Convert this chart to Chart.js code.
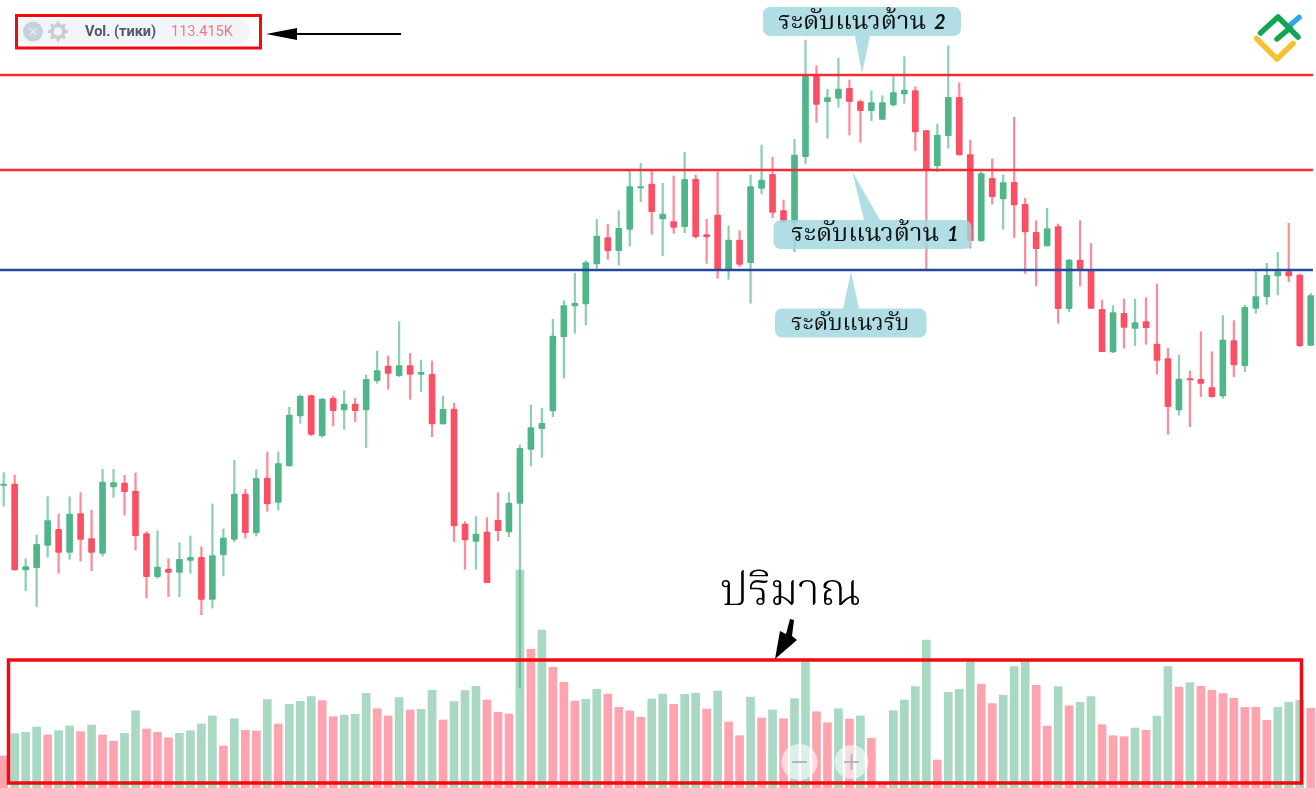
<!DOCTYPE html>
<html>
<head>
<meta charset="utf-8">
<title>Vol. (тики)</title>
<script src="https://cdn.jsdelivr.net/npm/chart.js@4/dist/chart.umd.min.js"></script>
<style>
  html, body { margin: 0; padding: 0; background: #fff; }
  canvas { display: block; }
</style>
</head>
<body>
<canvas id="myChart" width="1316" height="788"></canvas>
<script>
// Candles, one value per bar, price units are arbitrary (the picture has no price axis)
var opens = [314.7,316,230,232.3,254.7,270.7,247.7,286.3,261.3,246.7,313,317,309,266.3,223.3,231,227.7,239.7,242.7,200.7,
  245.3,260.7,306,267,322,297.7,334,384,404.3,364.3,401.7,390,396,390,419.3,434,424.3,434.3,425.7,425.7,
  376,391,276,258.7,268,279.7,268,296.7,350.7,371.3,389,463.3,494,496,536,562.3,549.3,570.7,612,616,
  581,578.3,573.3,621,565.3,585,530.7,560,537.3,611.7,625.7,589.3,578,643.3,724,698.3,701.7,711.7,698.3,689.3,
  680.7,695,706,709.3,669.3,634.3,664.3,702.7,645.3,559.3,621.7,601,617.7,595.7,567.7,554,573.3,491.3,540,529.3,
  490.7,448,486.7,471.7,478.3,456,441.3,390,421.3,420.7,412.3,404,459.3,434.3,491.7,503.3,524,528.3,525,454.7];
var closes = [316,230,233.3,255.7,279.3,247.7,286,260.7,247.7,318,317.3,308.3,264.3,223.3,233,227.7,240.7,242.7,200.7,244.3,
  262,306,267.3,321.7,296,336.3,385,404,365.7,401,389.3,396,389.3,420.7,429.3,426.7,434.3,425.7,427.7,376,
  390.7,274,260,266,217.3,269.3,297,351.7,372.3,376.7,464,494.3,496.7,537.3,564,549.3,571.7,613.3,613.3,588.3,
  586,572.7,620.7,563.3,563,530.7,560,535.7,613.3,620,587.7,578.3,645,724,695.7,702.3,711,698.3,689.3,697.3,
  697.3,707.3,710,668,630,665,702.7,645,559.3,626.3,603.3,617.3,595,568,551.3,571.3,491.3,540,531.3,491.7,
  448.3,487.3,472.7,477.3,472.3,439.7,393.3,421,420,416.7,403.3,460,435,492.7,503.3,524.7,528.3,524,454.3,504.3];
var highs = [327.3,325,241.3,265,303.3,286,303.3,307.3,289.7,330.7,330.7,324.7,327,268.3,269,241.3,257.3,264,253.3,296,
  271,339.7,310.7,330.7,348,348,392.7,405,405,401.7,404,409.3,401.7,425,449,444,478.3,446.7,440,439,
  404,396.7,278.3,283.3,282.3,307.3,307.3,355,395,391.7,480.7,499.3,526.7,539.3,580.7,575.7,589.3,630,636.7,630,
  616.7,624,647.7,625,580.7,628.3,574,569.3,625,655,642.7,600,660.7,760,734.3,710.7,741.7,720,700,709.3,
  704.3,723.3,743.3,713.3,669.3,676,754.3,717.3,660,628.3,641,625,682.7,601.7,579.3,591.7,576,540.7,579.3,556.7,
  500,494.3,501,501,502.3,516,451.7,445,429,468.3,448.3,484.3,479.3,495,528.3,536.7,547.7,576.7,526,506.7];
var lows = [294,230,209.3,193.3,242.7,226.7,240.7,239,229.3,244,302.7,285,250,202,221.7,203.3,203.3,226.7,185.3,192,
  224,258.3,261.7,264,288.7,290,334,376.7,364.3,362.7,374,370.7,378.3,352.3,416.7,410.7,423.3,400.7,408.3,363.3,
  376,258.3,230.7,230.7,217.3,259.3,263.3,112,334,342.7,383.3,421.7,466.7,475,531.7,540.7,535,554,598.3,565.7,
  544.3,566.7,567.3,561.7,536.7,521.7,520.7,533.3,496.7,606,582.3,578,548.3,636,677.7,661.7,692.7,665,657.7,679.3,
  680.7,694,696.7,649.3,529.3,628.3,651.7,645,551.7,558.3,596,570.7,562.3,526.7,514,554,476.7,488.3,514,491.7,
  448.3,447.3,451.7,454.3,455.7,426,365.7,385,373.3,403.3,402.7,401.7,423.3,428.3,486.7,495.7,505,518.3,453.3,454.3];

// Volume histogram, and whether each volume bar is green (1) or red (0)
var volumes = [32,54.3,55.7,61,53,57.3,62,56.3,63,53,46.7,54.7,77.3,59,55.7,50.3,54.7,57.3,64,72,
  42,69.3,57.7,57,88.3,64,83.7,86.7,91.3,87.3,71.3,72.7,73.7,94.7,79.3,72,90.3,78,78.7,97.7,
  68,86.3,97.3,101.7,88,75.7,74,218,138.7,158,120.7,105.7,87,88.7,98.7,94,80.7,77,70.7,89,
  94,83.7,93.7,94.7,79,97,66,52.3,91,70,78,69.3,89.3,129,76.3,65.3,79.3,69,72,49.7,
  5,77.3,88,101.3,148,28,95.7,98.7,128,104,84.3,93,121.3,127.3,102.7,62,101.3,82.3,85.7,91.3,
  63.3,52.3,51.3,60,57.7,72,121.3,101,105.3,101.7,97.7,94.3,89.7,80.7,80.7,67.7,80.7,86,87.7,79.7];
var volumeUp = [0,1,1,1,0,1,1,0,1,0,0,1,1,0,0,0,1,1,1,1,
  0,1,0,0,1,0,1,1,1,0,0,1,1,1,0,0,1,0,1,1,
  0,1,1,1,0,0,0,1,0,1,0,0,0,1,1,0,0,0,0,1,
  1,0,1,1,0,1,0,0,1,0,1,0,1,1,0,0,1,0,1,0,
  0,1,1,1,1,0,1,1,1,0,0,1,1,1,0,0,1,0,1,1,
  0,0,0,1,0,1,1,0,1,0,0,0,0,0,0,0,1,1,1,0];

// Support and resistance levels, same units as the candles
var resistance2 = 725;
var resistance1 = 630;
var support = 530;

var labelResistance2 = "ระดับแนวต้าน";
var labelResistance1 = "ระดับแนวต้าน";
var labelSupport = "ระดับแนวรับ";
var labelVolume = "ปริมาณ";
var indicatorName = "Vol. (тики)";
var indicatorValue = "113.415K";

var GREEN = "#50b689", RED = "#fc4f64";
var GREEN_WICK = "rgba(80,182,137,0.65)", RED_WICK = "rgba(252,79,100,0.65)";
var GREEN_VOL = "#a9d9c2", RED_VOL = "#ffa4af";
var THAI = '"Noto Serif Thai", "Norasi", "Garuda", "Loma", "Noto Sans Thai", "Noto Sans", sans-serif';

var candleUp = closes.map(function(c, i) { return c >= opens[i]; });
var indexes = opens.map(function(o, i) { return i; });

function levelLine(value, color) {
  return {
    type: "line",
    data: [{ x: -1, y: value }, { x: 119.2, y: value }],
    borderColor: color,
    borderWidth: 2.4,
    pointRadius: 0,
    yAxisID: "y",
    order: 1
  };
}

function callout(ctx, x1, y1, x2, y2, tail) {
  ctx.fillStyle = "rgba(160,215,222,0.82)";
  ctx.beginPath();
  ctx.roundRect(x1, y1, x2 - x1, y2 - y1, 7);
  ctx.moveTo(tail[0], tail[1]);
  ctx.lineTo(tail[2], tail[3]);
  ctx.lineTo(tail[4], tail[5]);
  ctx.closePath();
  ctx.fill();
}

function calloutText(ctx, text, x, y, size, number, numberX) {
  ctx.fillStyle = "#111";
  ctx.textAlign = "left";
  ctx.font = size + "px " + THAI;
  ctx.fillText(text, x, y);
  if (number) {
    ctx.font = "italic bold 20px Lato, sans-serif";
    ctx.fillText(number, numberX, y);
  }
}

// Everything that sits on top of the chart: frames, callouts, arrows, logo
var overlay = {
  id: "overlay",
  afterDraw: function(chart) {
    var ctx = chart.ctx;
    ctx.save();
    ctx.textBaseline = "alphabetic";

    // volume frame
    ctx.strokeStyle = "#f20a12";
    ctx.lineWidth = 3.5;
    ctx.strokeRect(8.5, 660, 1293, 123);

    // zoom buttons
    ctx.fillStyle = "rgba(255,255,255,0.6)";
    ctx.beginPath(); ctx.arc(799.5, 762, 18, 0, Math.PI * 2); ctx.fill();
    ctx.beginPath(); ctx.arc(851.5, 762, 17, 0, Math.PI * 2); ctx.fill();
    ctx.strokeStyle = "#b4b4c2";
    ctx.lineWidth = 2;
    ctx.beginPath();
    ctx.moveTo(792, 762); ctx.lineTo(807, 762);
    ctx.moveTo(844, 762); ctx.lineTo(859, 762);
    ctx.moveTo(851.5, 754); ctx.lineTo(851.5, 770);
    ctx.stroke();

    // callouts
    callout(ctx, 763, 7, 961, 36, [855, 36, 870, 36, 862, 74]);
    calloutText(ctx, labelResistance2, 778, 29, 25.5, "2", 934);
    callout(ctx, 773.5, 220, 971.5, 249, [864, 220, 880, 220, 852, 171]);
    calloutText(ctx, labelResistance1, 791, 241, 25.5, "1", 947);
    callout(ctx, 775, 308.5, 926.5, 337.5, [843, 308.5, 859, 308.5, 851, 272]);
    calloutText(ctx, labelSupport, 791, 330, 23);

    // volume label and its arrow
    ctx.fillStyle = "#000";
    ctx.font = "300 45px " + THAI;
    ctx.fillText(labelVolume, 720, 605);
    ctx.beginPath();
    ctx.moveTo(775, 659); ctx.lineTo(780, 631); ctx.lineTo(786, 634);
    ctx.lineTo(790, 619); ctx.lineTo(794, 620); ctx.lineTo(792, 636);
    ctx.lineTo(797, 640); ctx.closePath();
    ctx.fill();

    // indicator badge
    ctx.fillStyle = "#f2f4f7";
    ctx.beginPath(); ctx.roundRect(19, 19, 231, 25, 12); ctx.fill();
    ctx.strokeStyle = "#f20a12";
    ctx.lineWidth = 3;
    ctx.strokeRect(16.5, 15.5, 244, 32.5);
    ctx.fillStyle = "#c6d2dc";
    ctx.beginPath(); ctx.arc(33, 31.5, 10, 0, Math.PI * 2); ctx.fill();
    ctx.strokeStyle = "#e8edf1";
    ctx.lineWidth = 1.5;
    ctx.beginPath();
    ctx.moveTo(29.5, 28); ctx.lineTo(36.5, 35);
    ctx.moveTo(36.5, 28); ctx.lineTo(29.5, 35);
    ctx.stroke();
    ctx.strokeStyle = "#c8ced4";
    ctx.lineWidth = 3.5;
    ctx.beginPath(); ctx.arc(58, 31.5, 6, 0, Math.PI * 2); ctx.stroke();
    ctx.lineWidth = 3;
    for (var a = 0; a < 8; a++) {
      var ang = a * Math.PI / 4;
      ctx.beginPath();
      ctx.moveTo(58 + Math.cos(ang) * 7, 31.5 + Math.sin(ang) * 7);
      ctx.lineTo(58 + Math.cos(ang) * 10, 31.5 + Math.sin(ang) * 10);
      ctx.stroke();
    }
    ctx.fillStyle = "#4d5a70";
    ctx.font = "bold 14.5px Roboto, sans-serif";
    ctx.fillText(indicatorName, 85, 36);
    ctx.fillStyle = "#f0788b";
    ctx.font = "14.5px Roboto, sans-serif";
    ctx.fillText(indicatorValue, 171, 36);

    // black arrow pointing at the badge
    ctx.strokeStyle = "#000";
    ctx.lineWidth = 2;
    ctx.beginPath(); ctx.moveTo(295, 34); ctx.lineTo(401, 34); ctx.stroke();
    ctx.fillStyle = "#000";
    ctx.beginPath();
    ctx.moveTo(266, 34); ctx.lineTo(297, 28); ctx.lineTo(297, 40);
    ctx.closePath(); ctx.fill();

    // logo
    ctx.lineCap = "round";
    ctx.lineJoin = "round";
    ctx.lineWidth = 5.5;
    ctx.strokeStyle = "#2aa9e6";
    ctx.beginPath(); ctx.moveTo(1288, 27); ctx.lineTo(1299, 17.5); ctx.stroke();
    ctx.strokeStyle = "#f5c133";
    ctx.beginPath(); ctx.moveTo(1256.5, 38.5); ctx.lineTo(1277, 59); ctx.lineTo(1293, 43.5); ctx.stroke();
    ctx.strokeStyle = "#12a652";
    ctx.beginPath(); ctx.moveTo(1260.5, 33); ctx.lineTo(1278, 17); ctx.lineTo(1298, 37); ctx.stroke();
    ctx.beginPath(); ctx.moveTo(1277, 39); ctx.lineTo(1290, 28); ctx.stroke();

    ctx.restore();
  }
};

var ctx = document.getElementById("myChart").getContext("2d");
var myChart = new Chart(ctx, {
  type: "bar",
  data: {
    datasets: [
      levelLine(resistance2, "#f42a35"),
      levelLine(resistance1, "#f42a35"),
      levelLine(support, "#24479f"),
      {
        // candle bodies
        data: indexes.map(function(i) { return { x: i, y: [opens[i], closes[i]] }; }),
        backgroundColor: candleUp.map(function(up) { return up ? GREEN : RED; }),
        barThickness: 6,
        borderRadius: 1,
        borderSkipped: false,
        grouped: false,
        yAxisID: "y",
        order: 2
      },
      {
        // wicks
        data: indexes.map(function(i) { return { x: i, y: [lows[i], highs[i]] }; }),
        backgroundColor: candleUp.map(function(up) { return up ? GREEN_WICK : RED_WICK; }),
        barThickness: 1.6,
        grouped: false,
        yAxisID: "y",
        order: 3
      },
      {
        // volume
        data: indexes.map(function(i) { return { x: i, y: volumes[i] }; }),
        backgroundColor: volumeUp.map(function(up) { return up ? GREEN_VOL : RED_VOL; }),
        barThickness: 8,
        grouped: false,
        yAxisID: "yVol",
        order: 4
      }
    ]
  },
  options: {
    responsive: false,
    animation: false,
    devicePixelRatio: 1,
    layout: { padding: 0 },
    plugins: { legend: { display: false }, tooltip: { enabled: false } },
    scales: {
      x: { type: "linear", display: false, offset: false, min: -0.337, max: 119.48, grid: { display: false } },
      y: { display: false, min: 12, max: 800, grid: { display: false } },
      yVol: { display: false, min: 0, max: 788, grid: { display: false } }
    }
  },
  plugins: [overlay]
});
</script>
</body>
</html>
